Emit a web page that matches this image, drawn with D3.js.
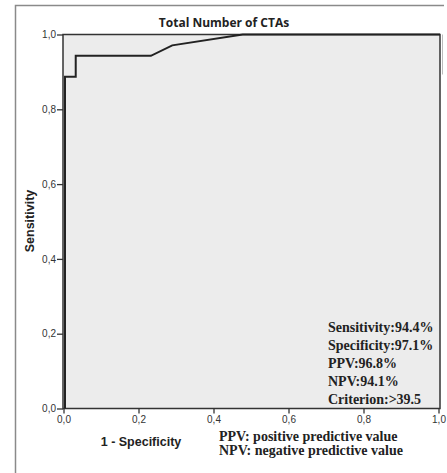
<!DOCTYPE html>
<html><head><meta charset="utf-8">
<script src="https://cdn.jsdelivr.net/npm/d3@7"></script>
<style>body{margin:0;background:#fff;}svg{display:block;}</style>
</head><body>
<svg id="c" width="447" height="473"></svg>
<script>
const title = "Total Number of CTAs";
const fpr = [0, 0, 0.0286, 0.0286, 0.229, 0.286, 0.474, 1.0];
const sens = [0, 0.887, 0.887, 0.943, 0.943, 0.971, 1.0, 1.0];
const tickValues = [0, 0.2, 0.4, 0.6, 0.8, 1.0];
const tickLabels = ["0,0", "0,2", "0,4", "0,6", "0,8", "1,0"];
const statsLines = ["Sensitivity:94.4%", "Specificity:97.1%", "PPV:96.8%", "NPV:94.1%", "Criterion:>39.5"];
const legendLines = ["PPV: positive predictive value", "NPV: negative predictive value"];

const svg = d3.select("#c");
const L = 65, R = 440, T = 34.5, B = 408.5;
const x = d3.scaleLinear().domain([0, 1]).range([L, R]);
const y = d3.scaleLinear().domain([0, 1]).range([B, T]);

// outer frame
svg.append("path").attr("d", "M15.5,473V5.5H444").attr("fill", "none").attr("stroke", "#8a8a8a").attr("stroke-width", 1.5);

// plot background
svg.append("rect").attr("x", L - 2).attr("y", T).attr("width", R - L + 2).attr("height", B - T)
  .attr("fill", "#ececec").attr("stroke", "#333").attr("stroke-width", 1.5);
svg.append("line").attr("x1", R + 2.5).attr("x2", R + 2.5).attr("y1", T).attr("y2", T + 40)
  .attr("stroke", "#bbb").attr("stroke-width", 1);

// curve
const line = d3.line().x(d => x(d[0])).y(d => y(d[1]));
svg.append("path").datum(fpr.map((f, i) => [f, sens[i]]))
  .attr("d", line).attr("fill", "none").attr("stroke", "#222").attr("stroke-width", 2);

// axes
const fmt = d => tickLabels[tickValues.findIndex(v => Math.abs(v - d) < 1e-9)];
const xa = svg.append("g").attr("transform", `translate(${-1.5},${B})`)
  .call(d3.axisBottom(x).tickValues(tickValues).tickFormat(fmt).tickSize(5).tickPadding(2));
const ya = svg.append("g").attr("transform", `translate(${L - 2},0)`)
  .call(d3.axisLeft(y).tickValues(tickValues).tickFormat(fmt).tickSize(6).tickPadding(1));
[xa, ya].forEach(g => {
  g.select(".domain").remove();
  g.selectAll(".tick line").attr("stroke", "#333").attr("stroke-width", 1.3);
  g.selectAll(".tick text").attr("fill", "#333").style("font-family", "Liberation Sans, Arial, sans-serif").style("font-size", "10px");
});

// title
svg.append("text").attr("x", 224).attr("y", 27).attr("text-anchor", "middle")
  .style("font-family", "Open Sans, sans-serif").style("font-weight", "bold").style("font-size", "12px")
  .attr("fill", "#222").text(title);

// axis labels
svg.append("text").attr("transform", "translate(34,221) rotate(-90)").attr("text-anchor", "middle")
  .style("font-family", "Liberation Sans, Arial, sans-serif").style("font-weight", "bold").style("font-size", "12.5px")
  .attr("fill", "#222").text("Sensitivity");
svg.append("text").attr("x", 141).attr("y", 446).attr("text-anchor", "middle")
  .style("font-family", "Liberation Sans, Arial, sans-serif").style("font-weight", "bold").style("font-size", "12.5px")
  .attr("fill", "#222").text("1 - Specificity");

// stats
svg.append("g").selectAll("text").data(statsLines).join("text")
  .attr("x", 328).attr("y", (d, i) => 332 + i * 18)
  .style("font-family", "Liberation Serif, Times New Roman, serif").style("font-weight", "bold").style("font-size", "14px")
  .attr("fill", "#222").text(d => d);

// legend
svg.append("g").selectAll("text").data(legendLines).join("text")
  .attr("x", 219).attr("y", (d, i) => 441 + i * 14)
  .style("font-family", "Liberation Serif, Times New Roman, serif").style("font-weight", "bold").style("font-size", "14px")
  .attr("fill", "#222").text(d => d);
</script>
</body></html>
